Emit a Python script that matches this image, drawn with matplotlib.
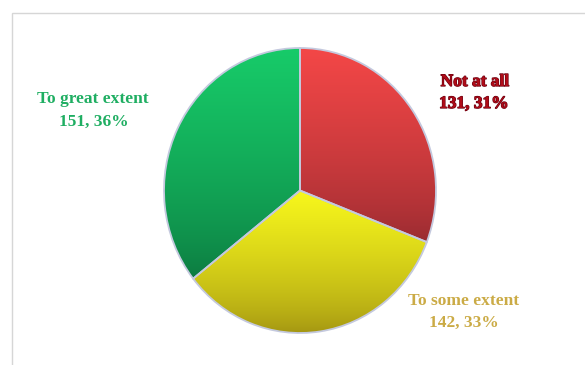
import numpy as np
import matplotlib
matplotlib.use("Agg")
import matplotlib.pyplot as plt
from matplotlib.colors import to_rgb
from matplotlib.patches import Rectangle
import matplotlib.patheffects as pe

# Survey responses
categories = ["Not at all", "To some extent", "To great extent"]
counts = [131, 142, 151]
percents = [31, 33, 36]

W, H = 585, 365
fig = plt.figure(figsize=(W / 100, H / 100), dpi=100)
fig.patch.set_facecolor("white")

# thin grey panel border (top and left edges)
fig.add_artist(Rectangle((11.5 / W, -0.1), 1.2, (H - 12.5) / H + 0.1,
                         transform=fig.transFigure, fill=False,
                         edgecolor="#d6d6d6", linewidth=1.0))

# pie axes, slightly taller than wide
left, right, top, bottom = 164, 436, 48, 333
ax = fig.add_axes([left / W, (H - bottom) / H, (right - left) / W, (bottom - top) / H])

slice_grad = {
    "Not at all": ("#f44747", "#962a30"),
    "To some extent": ("#f8f81c", "#a29412"),
    "To great extent": ("#17cb69", "#0c783f"),
}

wedges, _ = ax.pie(counts, startangle=90, counterclock=False, radius=1.0,
                   wedgeprops=dict(edgecolor="#c4c9de", linewidth=1.3))
ax.set_aspect("auto")
ax.axis("off")

for w, cat in zip(wedges, categories):
    bb = w.get_path().get_extents(w.get_patch_transform())
    c_top, c_bot = (np.array(to_rgb(c)) for c in slice_grad[cat])
    t = np.linspace(0, 1, 256)[:, None] ** 0.7
    grad = (c_bot * (1 - t) + c_top * t)[:, None, :]
    img = ax.imshow(grad, extent=(bb.x0, bb.x1, bb.y0, bb.y1), origin="lower",
                    aspect="auto", interpolation="bilinear", zorder=1)
    img.set_clip_path(w)
    w.set_facecolor("none")
    w.set_zorder(2)
ax.set_xlim(-1.0, 1.0)
ax.set_ylim(-1.0, 1.0)

# labels in figure pixel coordinates
tax = fig.add_axes([0, 0, 1, 1], facecolor="none")
tax.set_xlim(0, W)
tax.set_ylim(H, 0)
tax.axis("off")

font = dict(family="Liberation Serif", weight="bold", size=12.5,
            ha="center", va="center")
label_pos = {
    "Not at all": ((475, 82), (474, 104)),
    "To some extent": ((464, 301), (464, 323)),
    "To great extent": ((93, 99), (94, 122)),
}
label_color = {
    "Not at all": "#b00c18",
    "To some extent": "#cbab46",
    "To great extent": "#1fae62",
}
for cat, n, p in zip(categories, counts, percents):
    (x1, y1), (x2, y2) = label_pos[cat]
    extra = {}
    if cat == "Not at all":
        extra["path_effects"] = [pe.withStroke(linewidth=0.9, foreground="#6a0010")]
    tax.text(x1, y1, cat, color=label_color[cat], **font, **extra)
    tax.text(x2, y2, f"{n}, {p}%", color=label_color[cat], **font, **extra)

fig.savefig("out.png", dpi=100)
